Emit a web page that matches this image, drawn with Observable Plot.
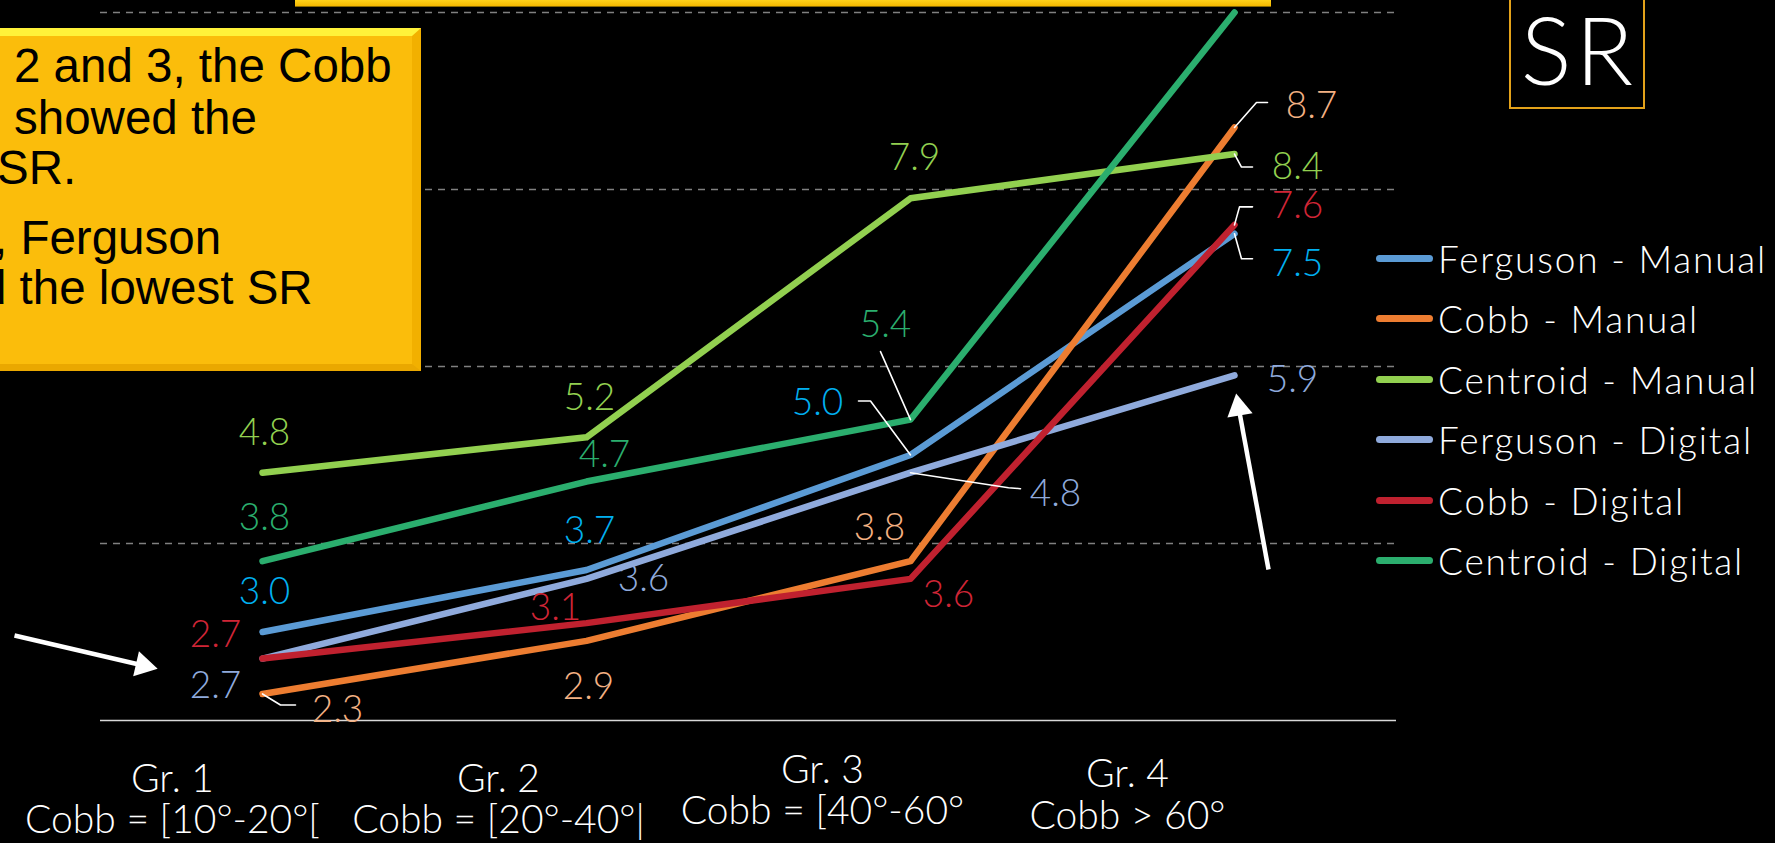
<!DOCTYPE html>
<html><head><meta charset="utf-8">
<script src="https://cdn.jsdelivr.net/npm/d3@7"></script>
<script src="https://cdn.jsdelivr.net/npm/@observablehq/plot@0.6"></script>
<style>
html,body{margin:0;padding:0;background:#000;width:1775px;height:843px;overflow:hidden;}
#wrap{position:relative;width:1775px;height:843px;background:#000;}
#chart{position:absolute;left:0;top:0;}
#topbar{position:absolute;left:295px;top:0;width:976px;height:6px;background:linear-gradient(#ffd21a,#f5b800);border-bottom:1px solid #8a6a00;}
#callout{position:absolute;left:0;top:28px;width:421px;height:343px;overflow:hidden;box-sizing:border-box;
  background:#fbbd0b;border-top:8px solid #fff23a;border-right:9px solid #f2b000;border-bottom:7px solid #eaa800;border-left:0;
  font-family:"Liberation Sans",Arial,sans-serif;font-size:47.5px;color:#000;}
#callout div{position:absolute;white-space:nowrap;line-height:48px;}
#sr{position:absolute;left:1509px;top:-3px;width:136px;height:112px;box-sizing:border-box;border:2px solid #e3a21a;
  color:#fff;font-family:Lato,sans-serif;font-weight:300;font-size:95px;line-height:112px;text-align:center;letter-spacing:4px;}
#sr span{position:relative;left:2px;top:-7px;}
#legend{position:absolute;left:1376px;top:0;font-family:Lato,sans-serif;font-weight:300;font-size:37px;color:#fff;letter-spacing:1.8px;}
.lrow{position:absolute;left:0;height:40px;white-space:nowrap;}
.lline{position:absolute;left:0;top:16px;width:57px;height:7px;border-radius:4px;}
.ltext{position:absolute;left:62px;top:0;line-height:40px;}
g[aria-label="category"] text{letter-spacing:1px;}
</style></head><body>
<div id="wrap">
  <div id="chart"></div>
  <div id="topbar"></div>
  <div id="callout">
    <div style="left:14px;top:6px">2 and 3, the Cobb</div>
    <div style="left:14px;top:58px">showed the</div>
    <div style="left:-3px;top:108px">SR.</div>
    <div style="left:-6px;top:178px">, Ferguson</div>
    <div style="left:-20px;top:228px">d the lowest SR</div>
  </div>
  <div id="sr"><span>SR</span></div>
  <div id="legend"></div>
</div>
<script>
// ---- data ----
const groups = ["Gr. 1", "Gr. 2", "Gr. 3", "Gr. 4"];
const groupRanges = ["Cobb = [10°-20°[", "Cobb = [20°-40°|", "Cobb = [40°-60°", "Cobb > 60°"];
const seriesNames = ["Ferguson - Manual", "Cobb - Manual", "Centroid - Manual", "Ferguson - Digital", "Cobb - Digital", "Centroid - Digital"];
const fergusonManual  = [3.0, 3.7, 5.0, 7.5];
const cobbManual      = [2.3, 2.9, 3.8, 8.7];
const centroidManual  = [4.8, 5.2, 7.9, 8.4];
const fergusonDigital = [2.7, 3.6, 4.8, 5.9];
const cobbDigital     = [2.7, 3.1, 3.6, 7.6];
const centroidDigital = [3.8, 4.7, 5.4, 10.0];
const seriesValues = [fergusonManual, cobbManual, centroidManual, fergusonDigital, cobbDigital, centroidDigital];
const gridValues = [4, 6, 8, 10];
const yMin = 2, yMax = 10.135;

// ---- styles / layout ----
const lineColors  = ["#5b9bd5", "#ed7d31", "#92d050", "#8faadc", "#c0212f", "#2bae6e"];
const labelColors = ["#00b0f0", "#f4b183", "#92d050", "#8faadc", "#d02536", "#2bae6e"];
// label offsets in px relative to each point [dx, dy]
const labelOffsets = [
  [[2,-40],[3,-39],[-93,-52],[63,30]],
  [[75,16],[2,46],[-31,-33],[77,-21]],
  [[2,-40],[3,-39],[4,-40],[63,13]],
  [[-47,28],[57,0],[145,21],[58,5]],
  [[-47,-23],[-31,-15],[38,16],[63,-19]],
  [[2,-43],[18,-26],[-25,-94],null]
];
// leader lines: series index, group index, px offsets of the polyline from the point
const leaders = [
  {s:1, g:0, pts:[[0,0],[18,11],[33,11]]},
  {s:0, g:2, pts:[[0,0],[-40,-54],[-52,-54]]},
  {s:5, g:2, pts:[[0,0],[-30,-68]]},
  {s:3, g:2, pts:[[0,0],[98,15],[110,16]]},
  {s:1, g:3, pts:[[0,0],[22,-25],[33,-25]]},
  {s:2, g:3, pts:[[0,0],[7,13],[18,13]]},
  {s:4, g:3, pts:[[0,0],[5,-18],[18,-18]]},
  {s:0, g:3, pts:[[0,0],[7,25],[18,25]]}
];
const catDx  = [-90, -88, -88, -107];
const catDy1 = [71, 71, 62, 66];
const catDy2 = [112, 112, 103, 108];
// annotation arrows (data units): tail -> head centre, with head rotation
const arrows = [
  {x1:0.2346, y1:2.96, x2:0.632, y2:2.622, rot:103},
  {x1:4.105, y1:3.706, x2:4.013, y2:5.53, rot:-10}
];

const W = 1775, H = 843, mL = 100, mR = 379, mT = 0, mB = 123;
const ppx = (W - mL - mR) / groups.length;
const ppy = (H - mT - mB) / (yMax - yMin);

const rows = [];
seriesNames.forEach((s, si) => seriesValues[si].forEach((v, gi) => rows.push({series: s, si, gi: gi + 1, value: v})));

const leaderRows = [];
leaders.forEach((L, k) => {
  const v = seriesValues[L.s][L.g];
  L.pts.forEach(([ox, oy]) => leaderRows.push({id: k, x: L.g + 1 + ox / ppx, y: v - oy / ppy}));
});

const marks = [
  Plot.ruleY(gridValues, {stroke: "#808080", strokeWidth: 1.4, strokeDasharray: "7,6"}),
  Plot.ruleY([yMin], {stroke: "#d9d9d9", strokeWidth: 1.6}),
  Plot.line(rows, {x: "gi", y: "value", z: "series", stroke: "series", strokeWidth: 6.5, strokeLinecap: "round", strokeLinejoin: "round"}),
  Plot.line(leaderRows, {x: "x", y: "y", z: "id", stroke: "#ffffff", strokeWidth: 1.6}),
  Plot.link(arrows, {x1: "x1", y1: "y1", x2: "x2", y2: "y2", stroke: "#ffffff", strokeWidth: 4.5})
];
arrows.forEach(a => {
  marks.push(Plot.dot([a], {x: "x2", y: "y2", symbol: "triangle", r: 9.5, fill: "#ffffff", stroke: "none", rotate: a.rot}));
});
rows.forEach(r => {
  const off = labelOffsets[r.si][r.gi - 1];
  if (!off) return;
  marks.push(Plot.text([r], {x: "gi", y: "value", text: d => d.value.toFixed(1), dx: off[0], dy: off[1],
    fill: labelColors[r.si], fontSize: 37, fontWeight: 300, fontFamily: "Lato, sans-serif", textAnchor: "middle"}));
});
groups.forEach((g, i) => {
  marks.push(Plot.text([i + 1], {x: d => d, frameAnchor: "bottom", text: () => g, dx: catDx[i], dy: catDy1[i],
    fill: "#ffffff", fontSize: 39, fontWeight: 300, fontFamily: "Lato, sans-serif", ariaLabel: "category"}));
  marks.push(Plot.text([i + 1], {x: d => d, frameAnchor: "bottom", text: () => groupRanges[i], dx: catDx[i], dy: catDy2[i],
    fill: "#ffffff", fontSize: 39, fontWeight: 300, fontFamily: "Lato, sans-serif", ariaLabel: "category"}));
});

const chart = Plot.plot({
  width: W, height: H, marginLeft: mL, marginRight: mR, marginTop: mT, marginBottom: mB,
  style: {background: "#000", color: "#fff", overflow: "visible"},
  x: {domain: [0.5, groups.length + 0.5], axis: null},
  y: {domain: [yMin, yMax], axis: null},
  color: {domain: seriesNames, range: lineColors},
  marks
});
document.getElementById("chart").appendChild(chart);

// legend
const leg = document.getElementById("legend");
seriesNames.forEach((s, i) => {
  const row = document.createElement("div");
  row.className = "lrow";
  row.style.top = (239 + i * 60.4) + "px";
  row.innerHTML = `<div class="lline" style="background:${lineColors[i]}"></div><div class="ltext">${s}</div>`;
  leg.appendChild(row);
});
</script>
</body></html>
